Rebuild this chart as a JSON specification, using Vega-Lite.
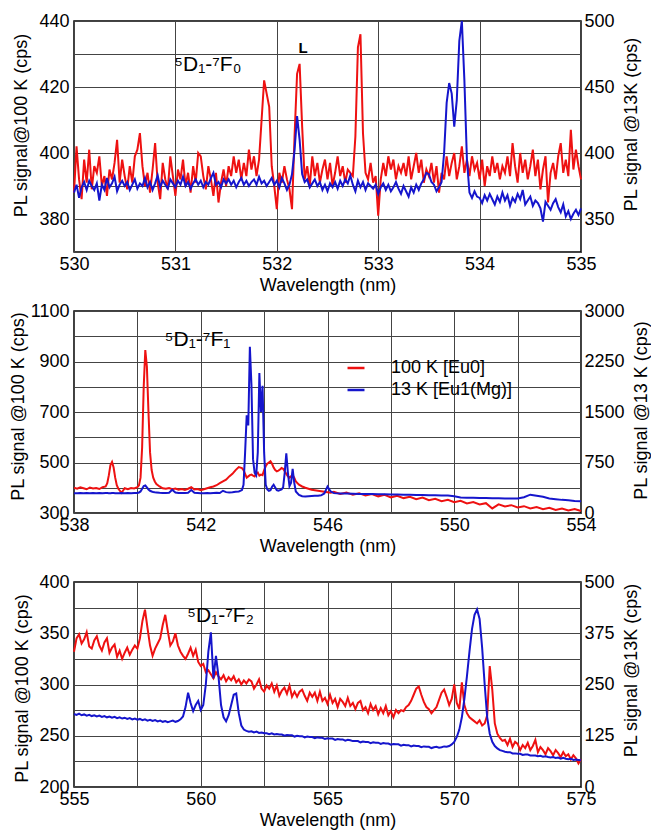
{
"$schema": "https://vega.github.io/schema/vega-lite/v6.json",
"padding": {"left": 8, "top": 11, "right": 0, "bottom": 0},
"spacing": 6,
"resolve": {"scale": {"color": "independent"}, "legend": {"color": "independent"}},
"datasets": {
"p1": [
{"x":530,"r":388,"b":370},{"x":530.025,"r":402,"b":376},{"x":530.05,"r":392,"b":366},{"x":530.075,"r":386,"b":374},{"x":530.1,"r":398,"b":378},{"x":530.125,"r":391,"b":372},{"x":530.15,"r":401,"b":379},{"x":530.175,"r":389,"b":375},{"x":530.2,"r":396,"b":372},{"x":530.225,"r":394,"b":377},
{"x":530.25,"r":399,"b":364},{"x":530.275,"r":390,"b":376},{"x":530.3,"r":393,"b":372},{"x":530.325,"r":387,"b":381},{"x":530.35,"r":395,"b":374},{"x":530.375,"r":392,"b":377},{"x":530.4,"r":397,"b":382},{"x":530.425,"r":404,"b":371},{"x":530.45,"r":391,"b":376},{"x":530.475,"r":398,"b":379},
{"x":530.5,"r":393,"b":375},{"x":530.525,"r":389,"b":378},{"x":530.55,"r":396,"b":372},{"x":530.575,"r":391,"b":376},{"x":530.6,"r":399,"b":380},{"x":530.625,"r":401,"b":373},{"x":530.65,"r":406,"b":377},{"x":530.675,"r":396,"b":375},{"x":530.7,"r":390,"b":381},{"x":530.725,"r":394,"b":374},
{"x":530.75,"r":388,"b":378},{"x":530.775,"r":395,"b":372},{"x":530.8,"r":403,"b":377},{"x":530.825,"r":391,"b":383},{"x":530.85,"r":386,"b":374},{"x":530.875,"r":397,"b":379},{"x":530.9,"r":392,"b":376},{"x":530.925,"r":389,"b":373},{"x":530.95,"r":399,"b":380},{"x":530.975,"r":393,"b":377},
{"x":531,"r":387,"b":374},{"x":531.025,"r":395,"b":379},{"x":531.05,"r":392,"b":376},{"x":531.075,"r":398,"b":382},{"x":531.1,"r":390,"b":375},{"x":531.125,"r":394,"b":378},{"x":531.15,"r":388,"b":373},{"x":531.175,"r":396,"b":377},{"x":531.2,"r":391,"b":380},{"x":531.225,"r":400,"b":376},
{"x":531.25,"r":399,"b":379},{"x":531.275,"r":393,"b":374},{"x":531.3,"r":389,"b":378},{"x":531.325,"r":396,"b":376},{"x":531.35,"r":392,"b":381},{"x":531.375,"r":387,"b":385},{"x":531.4,"r":394,"b":376},{"x":531.425,"r":385,"b":378},{"x":531.45,"r":391,"b":374},{"x":531.475,"r":395,"b":380},
{"x":531.5,"r":390,"b":377},{"x":531.525,"r":396,"b":380},{"x":531.55,"r":393,"b":376},{"x":531.575,"r":399,"b":379},{"x":531.6,"r":394,"b":374},{"x":531.625,"r":398,"b":378},{"x":531.65,"r":392,"b":381},{"x":531.675,"r":397,"b":376},{"x":531.7,"r":393,"b":379},{"x":531.725,"r":401,"b":375},
{"x":531.75,"r":395,"b":378},{"x":531.775,"r":399,"b":380},{"x":531.8,"r":393,"b":376},{"x":531.825,"r":398,"b":382},{"x":531.85,"r":410,"b":377},{"x":531.875,"r":422,"b":379},{"x":531.9,"r":418,"b":375},{"x":531.925,"r":414,"b":378},{"x":531.95,"r":396,"b":381},{"x":531.975,"r":390,"b":376},
{"x":532,"r":383,"b":379},{"x":532.025,"r":394,"b":374},{"x":532.05,"r":391,"b":381},{"x":532.075,"r":396,"b":377},{"x":532.1,"r":392,"b":372},{"x":532.125,"r":389,"b":376},{"x":532.15,"r":383,"b":384},{"x":532.175,"r":405,"b":402},{"x":532.2,"r":424,"b":428},{"x":532.225,"r":427,"b":410},
{"x":532.25,"r":408,"b":384},{"x":532.275,"r":392,"b":378},{"x":532.3,"r":396,"b":380},{"x":532.325,"r":390,"b":374},{"x":532.35,"r":399,"b":377},{"x":532.375,"r":393,"b":380},{"x":532.4,"r":397,"b":375},{"x":532.425,"r":391,"b":378},{"x":532.45,"r":395,"b":372},{"x":532.475,"r":398,"b":376},
{"x":532.5,"r":392,"b":371},{"x":532.525,"r":397,"b":377},{"x":532.55,"r":390,"b":374},{"x":532.575,"r":394,"b":378},{"x":532.6,"r":399,"b":373},{"x":532.625,"r":393,"b":379},{"x":532.65,"r":396,"b":375},{"x":532.675,"r":391,"b":380},{"x":532.7,"r":395,"b":377},{"x":532.725,"r":394,"b":383},
{"x":532.75,"r":393,"b":376},{"x":532.775,"r":405,"b":371},{"x":532.8,"r":432,"b":379},{"x":532.825,"r":436,"b":374},{"x":532.85,"r":406,"b":378},{"x":532.875,"r":394,"b":372},{"x":532.9,"r":392,"b":377},{"x":532.925,"r":397,"b":375},{"x":532.95,"r":391,"b":373},{"x":532.975,"r":393,"b":376},
{"x":533,"r":381,"b":369},{"x":533.025,"r":392,"b":374},{"x":533.05,"r":397,"b":377},{"x":533.075,"r":393,"b":372},{"x":533.1,"r":399,"b":376},{"x":533.125,"r":395,"b":371},{"x":533.15,"r":398,"b":374},{"x":533.175,"r":392,"b":378},{"x":533.2,"r":396,"b":373},{"x":533.225,"r":394,"b":369},
{"x":533.25,"r":397,"b":375},{"x":533.275,"r":393,"b":371},{"x":533.3,"r":399,"b":367},{"x":533.325,"r":392,"b":374},{"x":533.35,"r":396,"b":370},{"x":533.375,"r":400,"b":376},{"x":533.4,"r":394,"b":372},{"x":533.425,"r":398,"b":377},{"x":533.45,"r":391,"b":380},{"x":533.475,"r":395,"b":385},
{"x":533.5,"r":393,"b":384},{"x":533.525,"r":397,"b":378},{"x":533.55,"r":391,"b":376},{"x":533.575,"r":396,"b":371},{"x":533.6,"r":388,"b":374},{"x":533.625,"r":394,"b":378},{"x":533.65,"r":392,"b":400},{"x":533.675,"r":399,"b":438},{"x":533.7,"r":393,"b":453},{"x":533.725,"r":397,"b":445},
{"x":533.75,"r":400,"b":420},{"x":533.775,"r":392,"b":440},{"x":533.8,"r":396,"b":485},{"x":533.825,"r":402,"b":500},{"x":533.85,"r":394,"b":455},{"x":533.875,"r":398,"b":395},{"x":533.9,"r":393,"b":370},{"x":533.925,"r":399,"b":366},{"x":533.95,"r":395,"b":371},{"x":533.975,"r":397,"b":367},
{"x":534,"r":392,"b":366},{"x":534.025,"r":398,"b":362},{"x":534.05,"r":390,"b":368},{"x":534.075,"r":396,"b":364},{"x":534.1,"r":393,"b":369},{"x":534.125,"r":399,"b":365},{"x":534.15,"r":394,"b":361},{"x":534.175,"r":397,"b":367},{"x":534.2,"r":392,"b":363},{"x":534.225,"r":396,"b":370},
{"x":534.25,"r":394,"b":364},{"x":534.275,"r":399,"b":368},{"x":534.3,"r":393,"b":360},{"x":534.325,"r":403,"b":366},{"x":534.35,"r":396,"b":363},{"x":534.375,"r":391,"b":369},{"x":534.4,"r":400,"b":365},{"x":534.425,"r":394,"b":372},{"x":534.45,"r":398,"b":361},{"x":534.475,"r":392,"b":364},
{"x":534.5,"r":396,"b":367},{"x":534.525,"r":401,"b":360},{"x":534.55,"r":393,"b":364},{"x":534.575,"r":398,"b":362},{"x":534.6,"r":389,"b":358},{"x":534.625,"r":395,"b":348},{"x":534.65,"r":399,"b":363},{"x":534.675,"r":385,"b":360},{"x":534.7,"r":394,"b":357},{"x":534.725,"r":397,"b":362},
{"x":534.75,"r":392,"b":365},{"x":534.775,"r":399,"b":359},{"x":534.8,"r":403,"b":355},{"x":534.825,"r":394,"b":361},{"x":534.85,"r":398,"b":352},{"x":534.875,"r":393,"b":356},{"x":534.9,"r":407,"b":350},{"x":534.925,"r":395,"b":354},{"x":534.95,"r":401,"b":357},{"x":534.975,"r":396,"b":353},
{"x":535,"r":392,"b":358}
],
"p2": [
{"x":538,"r":400,"b":295},{"x":538.1,"r":396,"b":292},{"x":538.2,"r":402,"b":297},{"x":538.3,"r":398,"b":294},{"x":538.4,"r":394,"b":296},{"x":538.5,"r":401,"b":293},{"x":538.6,"r":397,"b":298},{"x":538.7,"r":399,"b":294},{"x":538.8,"r":395,"b":296},{"x":538.9,"r":402,"b":295},
{"x":539,"r":405,"b":297},{"x":539.05,"r":418,"b":296},{"x":539.1,"r":450,"b":294},{"x":539.15,"r":490,"b":295},{"x":539.2,"r":502,"b":297},{"x":539.25,"r":480,"b":296},{"x":539.3,"r":440,"b":294},{"x":539.35,"r":410,"b":295},{"x":539.4,"r":396,"b":293},{"x":539.5,"r":380,"b":296},
{"x":539.6,"r":398,"b":294},{"x":539.7,"r":394,"b":297},{"x":539.8,"r":399,"b":295},{"x":539.9,"r":397,"b":296},{"x":540,"r":402,"b":298},{"x":540.05,"r":410,"b":305},{"x":540.1,"r":440,"b":320},{"x":540.15,"r":560,"b":360},{"x":540.2,"r":800,"b":400},{"x":540.25,"r":945,"b":408},
{"x":540.3,"r":880,"b":380},{"x":540.35,"r":700,"b":350},{"x":540.4,"r":540,"b":330},{"x":540.45,"r":470,"b":320},{"x":540.5,"r":440,"b":312},{"x":540.55,"r":425,"b":308},{"x":540.6,"r":415,"b":305},{"x":540.7,"r":405,"b":300},{"x":540.8,"r":398,"b":298},{"x":540.9,"r":396,"b":296},
{"x":541,"r":399,"b":300},{"x":541.1,"r":394,"b":345},{"x":541.2,"r":397,"b":305},{"x":541.3,"r":392,"b":298},{"x":541.4,"r":395,"b":296},{"x":541.5,"r":391,"b":298},{"x":541.6,"r":396,"b":300},{"x":541.7,"r":402,"b":340},{"x":541.8,"r":393,"b":300},{"x":541.9,"r":395,"b":296},
{"x":542,"r":390,"b":293},{"x":542.1,"r":394,"b":295},{"x":542.2,"r":398,"b":297},{"x":542.3,"r":402,"b":294},{"x":542.4,"r":405,"b":298},{"x":542.5,"r":410,"b":300},{"x":542.6,"r":418,"b":296},{"x":542.7,"r":425,"b":330},{"x":542.8,"r":432,"b":310},{"x":542.9,"r":445,"b":305},
{"x":543,"r":455,"b":308},{"x":543.1,"r":470,"b":315},{"x":543.2,"r":482,"b":320},{"x":543.3,"r":478,"b":340},{"x":543.35,"r":470,"b":420},{"x":543.4,"r":455,"b":900},{"x":543.45,"r":440,"b":1450},{"x":543.5,"r":445,"b":1300},{"x":543.55,"r":450,"b":2470},{"x":543.6,"r":452,"b":1900},
{"x":543.65,"r":448,"b":800},{"x":543.7,"r":445,"b":600},{"x":543.75,"r":455,"b":560},{"x":543.8,"r":460,"b":900},{"x":543.85,"r":448,"b":2080},{"x":543.9,"r":452,"b":1500},{"x":543.95,"r":450,"b":1890},{"x":544,"r":470,"b":900},{"x":544.05,"r":485,"b":420},{"x":544.1,"r":495,"b":350},
{"x":544.15,"r":500,"b":330},{"x":544.2,"r":505,"b":340},{"x":544.25,"r":495,"b":390},{"x":544.3,"r":480,"b":420},{"x":544.35,"r":470,"b":380},{"x":544.4,"r":465,"b":340},{"x":544.45,"r":468,"b":330},{"x":544.5,"r":472,"b":340},{"x":544.55,"r":478,"b":350},{"x":544.6,"r":475,"b":380},
{"x":544.65,"r":465,"b":600},{"x":544.7,"r":455,"b":885},{"x":544.75,"r":445,"b":600},{"x":544.8,"r":440,"b":400},{"x":544.85,"r":445,"b":450},{"x":544.9,"r":450,"b":654},{"x":544.95,"r":440,"b":450},{"x":545,"r":425,"b":320},{"x":545.1,"r":412,"b":270},{"x":545.2,"r":405,"b":250},
{"x":545.3,"r":400,"b":245},{"x":545.4,"r":396,"b":248},{"x":545.5,"r":392,"b":252},{"x":545.6,"r":390,"b":255},{"x":545.7,"r":388,"b":258},{"x":545.8,"r":386,"b":262},{"x":545.9,"r":384,"b":290},{"x":546,"r":382,"b":393},{"x":546.1,"r":380,"b":320},{"x":546.2,"r":384,"b":295},
{"x":546.4,"r":375,"b":290},{"x":546.6,"r":381,"b":288},{"x":546.8,"r":372,"b":286},{"x":547,"r":378,"b":284},{"x":547.2,"r":369,"b":282},{"x":547.4,"r":375,"b":281},{"x":547.6,"r":366,"b":279},{"x":547.8,"r":372,"b":277},{"x":548,"r":362,"b":276},{"x":548.2,"r":368,"b":274},
{"x":548.4,"r":359,"b":272},{"x":548.6,"r":364,"b":270},{"x":548.8,"r":355,"b":268},{"x":549,"r":361,"b":266},{"x":549.2,"r":351,"b":264},{"x":549.4,"r":356,"b":262},{"x":549.6,"r":347,"b":261},{"x":549.8,"r":352,"b":259},{"x":550,"r":343,"b":250},{"x":550.2,"r":348,"b":230},
{"x":550.4,"r":338,"b":228},{"x":550.6,"r":343,"b":226},{"x":550.8,"r":334,"b":224},{"x":551,"r":339,"b":222},{"x":551.2,"r":318,"b":220},{"x":551.4,"r":334,"b":218},{"x":551.6,"r":326,"b":216},{"x":551.8,"r":331,"b":214},{"x":552,"r":322,"b":215},{"x":552.2,"r":327,"b":235},
{"x":552.4,"r":318,"b":272},{"x":552.6,"r":324,"b":255},{"x":552.8,"r":315,"b":240},{"x":553,"r":321,"b":215},{"x":553.2,"r":312,"b":205},{"x":553.4,"r":318,"b":195},{"x":553.6,"r":310,"b":188},{"x":553.8,"r":316,"b":180},{"x":554,"r":308,"b":175}
],
"p3": [
{"x":555,"r":332,"b":178},{"x":555.1,"r":345,"b":176},{"x":555.2,"r":349,"b":179},{"x":555.3,"r":340,"b":175},{"x":555.4,"r":344,"b":177},{"x":555.5,"r":351,"b":174},{"x":555.6,"r":337,"b":176},{"x":555.7,"r":335,"b":173},{"x":555.8,"r":343,"b":175},{"x":555.9,"r":347,"b":172},
{"x":556,"r":338,"b":174},{"x":556.1,"r":333,"b":171},{"x":556.2,"r":341,"b":173},{"x":556.3,"r":345,"b":170},{"x":556.4,"r":331,"b":172},{"x":556.5,"r":336,"b":169},{"x":556.6,"r":339,"b":171},{"x":556.7,"r":327,"b":168},{"x":556.8,"r":333,"b":170},{"x":556.9,"r":325,"b":167},
{"x":557,"r":331,"b":169},{"x":557.1,"r":336,"b":166},{"x":557.2,"r":329,"b":168},{"x":557.3,"r":334,"b":165},{"x":557.4,"r":338,"b":167},{"x":557.5,"r":335,"b":164},{"x":557.6,"r":345,"b":166},{"x":557.7,"r":362,"b":163},{"x":557.8,"r":373,"b":165},{"x":557.9,"r":355,"b":162},
{"x":558,"r":338,"b":164},{"x":558.1,"r":328,"b":161},{"x":558.2,"r":335,"b":163},{"x":558.3,"r":340,"b":160},{"x":558.4,"r":345,"b":162},{"x":558.5,"r":358,"b":159},{"x":558.6,"r":368,"b":161},{"x":558.7,"r":352,"b":158},{"x":558.8,"r":338,"b":160},{"x":558.9,"r":342,"b":162},
{"x":559,"r":350,"b":159},{"x":559.1,"r":338,"b":161},{"x":559.2,"r":332,"b":165},{"x":559.3,"r":328,"b":172},{"x":559.4,"r":325,"b":195},{"x":559.5,"r":330,"b":230},{"x":559.6,"r":336,"b":205},{"x":559.7,"r":328,"b":185},{"x":559.8,"r":334,"b":200},{"x":559.9,"r":322,"b":210},
{"x":560,"r":318,"b":188},{"x":560.1,"r":320,"b":200},{"x":560.2,"r":312,"b":250},{"x":560.3,"r":314,"b":330},{"x":560.4,"r":310,"b":377},{"x":560.5,"r":306,"b":265},{"x":560.6,"r":312,"b":320},{"x":560.7,"r":308,"b":270},{"x":560.8,"r":305,"b":200},{"x":560.9,"r":309,"b":170},
{"x":561,"r":303,"b":160},{"x":561.1,"r":307,"b":175},{"x":561.2,"r":304,"b":200},{"x":561.3,"r":308,"b":225},{"x":561.4,"r":302,"b":228},{"x":561.5,"r":305,"b":180},{"x":561.6,"r":300,"b":150},{"x":561.7,"r":304,"b":140},{"x":561.8,"r":301,"b":137},{"x":561.9,"r":305,"b":135},
{"x":562,"r":303,"b":136},{"x":562.1,"r":296,"b":133},{"x":562.2,"r":300,"b":135},{"x":562.3,"r":305,"b":132},{"x":562.4,"r":296,"b":133},{"x":562.5,"r":293,"b":131},{"x":562.6,"r":299,"b":131},{"x":562.7,"r":296,"b":129},{"x":562.8,"r":301,"b":131},{"x":562.9,"r":293,"b":128},
{"x":563,"r":299,"b":129},{"x":563.1,"r":289,"b":128},{"x":563.2,"r":294,"b":128},{"x":563.3,"r":297,"b":125},{"x":563.4,"r":291,"b":127},{"x":563.5,"r":299,"b":126},{"x":563.6,"r":288,"b":126},{"x":563.7,"r":293,"b":123},{"x":563.8,"r":288,"b":125},{"x":563.9,"r":293,"b":124},
{"x":564,"r":295,"b":124},{"x":564.1,"r":289,"b":121},{"x":564.2,"r":284,"b":123},{"x":564.3,"r":292,"b":122},{"x":564.4,"r":288,"b":122},{"x":564.5,"r":292,"b":119},{"x":564.6,"r":284,"b":121},{"x":564.7,"r":293,"b":120},{"x":564.8,"r":284,"b":120},{"x":564.9,"r":287,"b":117},
{"x":565,"r":281,"b":119},{"x":565.1,"r":290,"b":118},{"x":565.2,"r":282,"b":118},{"x":565.3,"r":286,"b":115},{"x":565.4,"r":278,"b":117},{"x":565.5,"r":286,"b":116},{"x":565.6,"r":283,"b":116},{"x":565.7,"r":279,"b":113},{"x":565.8,"r":287,"b":115},{"x":565.9,"r":279,"b":114},
{"x":566,"r":282,"b":112},{"x":566.1,"r":276,"b":112},{"x":566.2,"r":282,"b":112},{"x":566.3,"r":284,"b":109},{"x":566.4,"r":275,"b":111},{"x":566.5,"r":278,"b":110},{"x":566.6,"r":272,"b":110},{"x":566.7,"r":281,"b":107},{"x":566.8,"r":275,"b":109},{"x":566.9,"r":279,"b":108},
{"x":567,"r":271,"b":108},{"x":567.1,"r":277,"b":105},{"x":567.2,"r":272,"b":107},{"x":567.3,"r":279,"b":106},{"x":567.4,"r":270,"b":106},{"x":567.5,"r":274,"b":103},{"x":567.6,"r":268,"b":105},{"x":567.7,"r":275,"b":104},{"x":567.8,"r":272,"b":104},{"x":567.9,"r":275,"b":101},
{"x":568,"r":274,"b":103},{"x":568.1,"r":278,"b":102},{"x":568.2,"r":280,"b":102},{"x":568.3,"r":284,"b":99},{"x":568.4,"r":290,"b":101},{"x":568.5,"r":296,"b":100},{"x":568.6,"r":298,"b":100},{"x":568.7,"r":290,"b":97},{"x":568.8,"r":283,"b":99},{"x":568.9,"r":278,"b":98},
{"x":569,"r":276,"b":98},{"x":569.1,"r":272,"b":95},{"x":569.2,"r":275,"b":97},{"x":569.3,"r":278,"b":98},{"x":569.4,"r":285,"b":96},{"x":569.5,"r":292,"b":97},{"x":569.6,"r":295,"b":99},{"x":569.7,"r":288,"b":98},{"x":569.8,"r":280,"b":100},{"x":569.9,"r":286,"b":104},
{"x":570,"r":300,"b":110},{"x":570.1,"r":282,"b":122},{"x":570.2,"r":276,"b":140},{"x":570.3,"r":302,"b":170},{"x":570.4,"r":280,"b":215},{"x":570.5,"r":272,"b":270},{"x":570.6,"r":268,"b":330},{"x":570.7,"r":266,"b":385},{"x":570.8,"r":264,"b":420},{"x":570.9,"r":262,"b":433},
{"x":571,"r":265,"b":410},{"x":571.1,"r":260,"b":340},{"x":571.2,"r":262,"b":250},{"x":571.3,"r":270,"b":170},{"x":571.4,"r":318,"b":130},{"x":571.5,"r":295,"b":110},{"x":571.6,"r":262,"b":100},{"x":571.7,"r":252,"b":94},{"x":571.8,"r":248,"b":90},{"x":571.9,"r":245,"b":88},
{"x":572,"r":246,"b":86},{"x":572.1,"r":241,"b":85},{"x":572.2,"r":247,"b":85},{"x":572.3,"r":239,"b":82},{"x":572.4,"r":244,"b":82},{"x":572.5,"r":242,"b":81},{"x":572.6,"r":236,"b":81},{"x":572.7,"r":241,"b":78},{"x":572.8,"r":238,"b":79},{"x":572.9,"r":243,"b":79},
{"x":573,"r":236,"b":77},{"x":573.1,"r":240,"b":77},{"x":573.2,"r":246,"b":77},{"x":573.3,"r":234,"b":75},{"x":573.4,"r":239,"b":76},{"x":573.5,"r":236,"b":74},{"x":573.6,"r":232,"b":75},{"x":573.7,"r":238,"b":73},{"x":573.8,"r":235,"b":72},{"x":573.9,"r":231,"b":73},
{"x":574,"r":236,"b":71},{"x":574.1,"r":233,"b":72},{"x":574.2,"r":229,"b":69},{"x":574.3,"r":234,"b":71},{"x":574.4,"r":230,"b":69},{"x":574.5,"r":232,"b":68},{"x":574.6,"r":227,"b":69},{"x":574.7,"r":231,"b":66},{"x":574.8,"r":228,"b":67},{"x":574.9,"r":223,"b":66},
{"x":575,"r":227,"b":65}
]
},
"vconcat": [
{
"width": 507, "height": 231,
"data": {"name": "p1"},
"encoding": {"x": {"field": "x", "type": "quantitative", "scale": {"domain": [530, 535], "nice": false, "zero": false},
  "axis": {"title": "Wavelength (nm)", "format": "d", "tickCount": 100, "values": [530,530.5,531,531.5,532,532.5,533,533.5,534,534.5,535], "labelExpr": "datum.value % 1 == 0 ? datum.label : ''"}}},
"layer": [
 {"layer": [
  {"mark": {"type": "line", "color": "#ee1111", "strokeWidth": 2},
   "encoding": {"y": {"field": "r", "type": "quantitative", "scale": {"domain": [370, 440], "nice": false, "zero": false},
     "axis": {"title": "PL signal@100 K (cps)", "format": "d", "tickCount": 100, "values": [370,380,390,400,410,420,430,440], "labelExpr": "datum.value % 20 == 0 ? datum.label : ''", "titlePadding": 8, "titleY": 104}}}},
  {"data": {"values": [{"x": 531.32, "y": 425, "t": "⁵D₁-⁷F₀"}]},
   "mark": {"type": "text", "fontSize": 21, "align": "center", "baseline": "alphabetic", "color": "#000"},
   "encoding": {"y": {"field": "y", "type": "quantitative", "title": "PL signal@100 K (cps)"}, "text": {"field": "t"}}}
 ]},
 {"layer": [
  {"mark": {"type": "line", "color": "#1515cc", "strokeWidth": 2},
   "encoding": {"y": {"field": "b", "type": "quantitative", "scale": {"domain": [325, 500], "nice": false, "zero": false},
     "axis": {"orient": "right", "title": "PL signal @13K (cps)", "format": "d", "tickCount": 100, "values": [350,400,450,500], "grid": false, "titleAngle": 270, "titleBaseline": "top", "labelPadding": 3, "titlePadding": 8, "titleY": 103}}}},
  {"data": {"values": [{"x": 532.26, "y": 475.75, "t": "L"}]},
   "mark": {"type": "text", "fontSize": 15, "fontWeight": "bold", "align": "center", "baseline": "alphabetic", "color": "#000"},
   "encoding": {"y": {"field": "y", "type": "quantitative", "title": "PL signal @13K (cps)"}, "text": {"field": "t"}}}
 ]}
],
"resolve": {"scale": {"y": "independent"}}
},
{
"width": 507, "height": 202,
"data": {"name": "p2"},
"encoding": {"x": {"field": "x", "type": "quantitative", "scale": {"domain": [538, 554], "nice": false, "zero": false},
  "axis": {"title": "Wavelength (nm)", "format": "d", "tickCount": 100, "values": [538,540,542,544,546,548,550,552,554], "labelExpr": "(datum.value - 538) % 4 == 0 ? datum.label : ''"}}},
"layer": [
 {"layer": [
  {"mark": {"type": "line", "strokeWidth": 2},
   "encoding": {"y": {"field": "r", "type": "quantitative", "scale": {"domain": [300, 1100], "nice": false, "zero": false},
     "axis": {"title": "PL signal @100 K (cps)", "format": "d", "tickCount": 100, "values": [300,400,500,600,700,800,900,1000,1100], "labelExpr": "(datum.value - 300) % 200 == 0 ? datum.label : ''", "titlePadding": 3, "titleY": 95}},
     "color": {"datum": "100 K [Eu0]", "type": "nominal", "scale": {"domain": ["100 K [Eu0]", "13 K [Eu1(Mg)]"], "range": ["#ee1111", "#1515cc"]},
       "legend": {"title": null, "orient": "none", "legendX": 273, "legendY": 48, "symbolType": "M-2,0H2", "symbolSize": 72, "symbolStrokeWidth": 2.5, "labelFontSize": 18, "labelOffset": 26, "rowPadding": 4, "padding": 0, "labelColor": "#000"}}}},
  {"data": {"values": [{"x": 541.9, "y": 961, "t": "⁵D₁-⁷F₁"}]},
   "mark": {"type": "text", "fontSize": 21, "align": "center", "baseline": "alphabetic", "color": "#000"},
   "encoding": {"y": {"field": "y", "type": "quantitative", "title": "PL signal @100 K (cps)"}, "text": {"field": "t"}}}
 ]},
 {"mark": {"type": "line", "strokeWidth": 2},
  "encoding": {"y": {"field": "b", "type": "quantitative", "scale": {"domain": [0, 3000], "nice": false, "zero": false},
    "axis": {"orient": "right", "title": "PL signal @13 K (cps)", "format": "d", "tickCount": 100, "values": [0,750,1500,2250,3000], "grid": false, "titleAngle": 270, "titleBaseline": "top", "labelPadding": 3, "titlePadding": 8, "titleY": 99}},
    "color": {"datum": "13 K [Eu1(Mg)]", "type": "nominal"}}}
],
"resolve": {"scale": {"y": "independent"}}
},
{
"width": 507, "height": 205,
"title": {"text": " ", "fontSize": 1, "offset": 9},
"data": {"name": "p3"},
"encoding": {"x": {"field": "x", "type": "quantitative", "scale": {"domain": [555, 575], "nice": false, "zero": false},
  "axis": {"title": "Wavelength (nm)", "format": "d", "tickCount": 100, "values": [555,557.5,560,562.5,565,567.5,570,572.5,575], "labelExpr": "datum.value % 5 == 0 ? datum.label : ''"}}},
"layer": [
 {"layer": [
  {"mark": {"type": "line", "color": "#ee1111", "strokeWidth": 2},
   "encoding": {"y": {"field": "r", "type": "quantitative", "scale": {"domain": [200, 400], "nice": false, "zero": false},
     "axis": {"title": "PL signal @100 K (cps)", "format": "d", "tickCount": 100, "values": [200,225,250,275,300,325,350,375,400], "labelExpr": "datum.value % 50 == 0 ? datum.label : ''", "titlePadding": 7, "titleY": 106}}}},
  {"data": {"values": [{"x": 560.78, "y": 361, "t": "⁵D₁-⁷F₂"}]},
   "mark": {"type": "text", "fontSize": 21, "align": "center", "baseline": "alphabetic", "color": "#000"},
   "encoding": {"y": {"field": "y", "type": "quantitative", "title": "PL signal @100 K (cps)"}, "text": {"field": "t"}}}
 ]},
 {"mark": {"type": "line", "color": "#1515cc", "strokeWidth": 2},
  "encoding": {"y": {"field": "b", "type": "quantitative", "scale": {"domain": [0, 500], "nice": false, "zero": false},
    "axis": {"orient": "right", "title": "PL signal @13K (cps)", "format": "d", "tickCount": 100, "values": [0,125,250,375,500], "grid": false, "titleAngle": 270, "titleBaseline": "top", "labelPadding": 3, "titlePadding": 8, "titleY": 88}}}}
],
"resolve": {"scale": {"y": "independent"}}
}
],
"config": {
"font": "Liberation Sans",
"view": {"stroke": "#000", "strokeWidth": 1.5},
"axis": {"labelFontSize": 18, "titleFontSize": 18, "titleFontWeight": "normal", "labelColor": "#000", "titleColor": "#000", "ticks": false, "domain": false, "gridColor": "#444", "gridOpacity": 1, "gridWidth": 1, "labelOverlap": false, "labelFlush": false, "labelBound": false},
"axisX": {"labelPadding": 3, "titlePadding": 3},
"axisY": {"labelPadding": 5},
"title": {"color": "#000"}
}
}
